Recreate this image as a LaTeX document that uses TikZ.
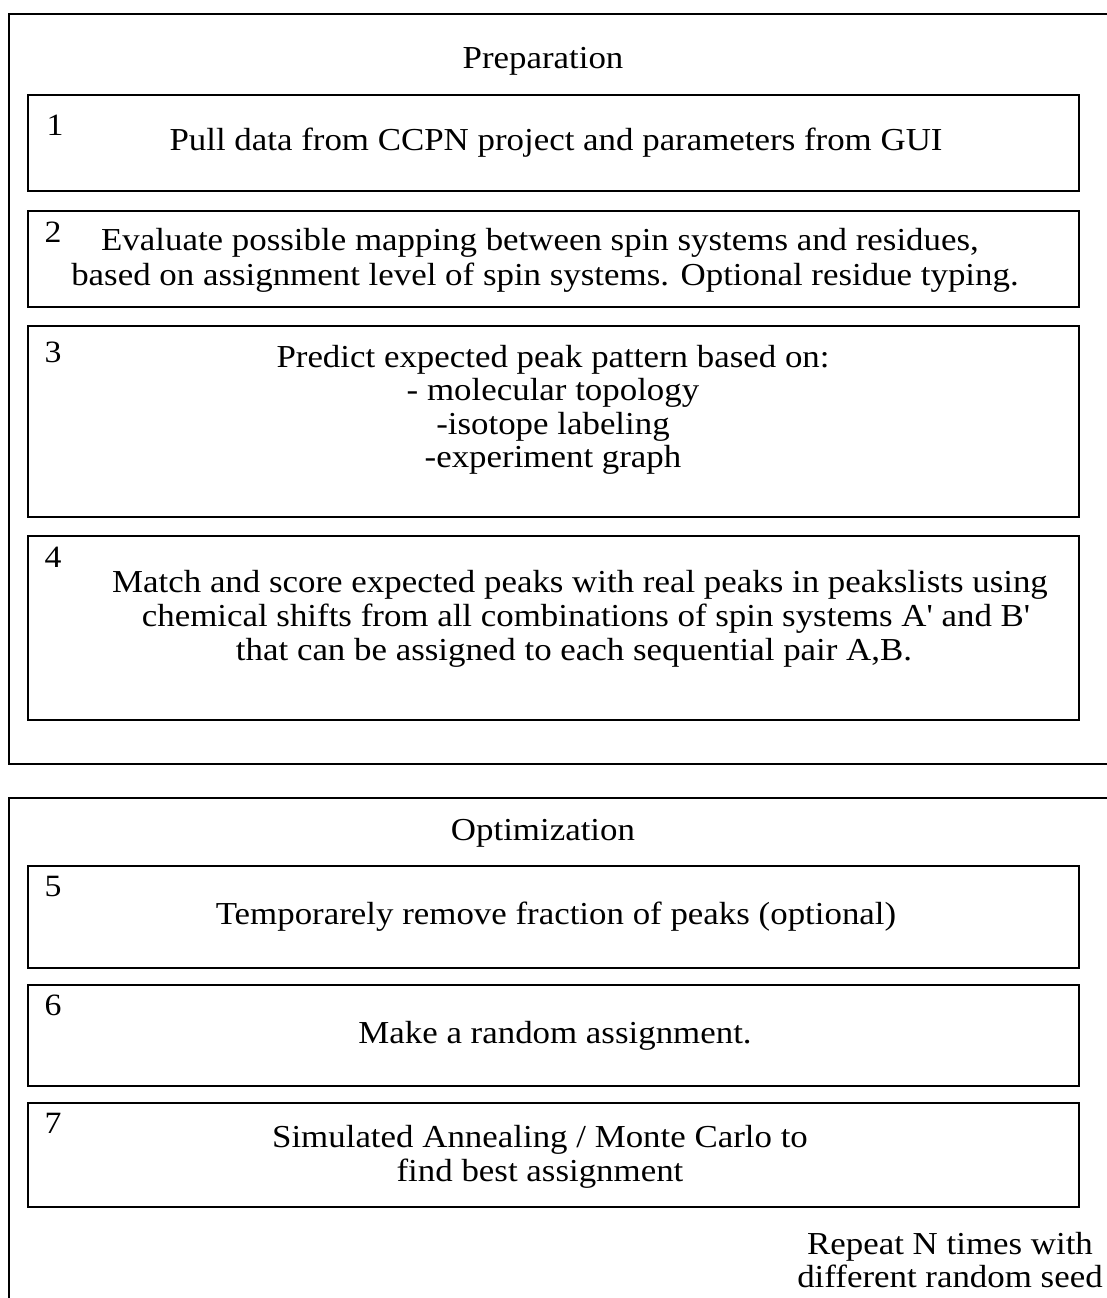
\documentclass[tikz,border=0pt]{standalone}
\usepackage{fontspec}
\newfontfamily\mainf{Liberation Serif}[FakeStretch=1.09]
\begin{document}
\begin{tikzpicture}[x=1pt,y=-1pt,
  outer/.style={draw=black,line width=2pt},
  stepbox/.style={draw=black,line width=2.4pt},
  lbl/.style={font=\mainf\fontsize{32}{33.5}\selectfont,inner sep=0pt,align=center},
  num/.style={font=\mainf\fontsize{31}{33}\selectfont,inner sep=0pt}
]
\useasboundingbox (0,0) rectangle (1107,1298);
\clip (0,0) rectangle (1107,1298);
% outer frames
\draw[outer] (9,14) rectangle (1120,764);
\draw[outer] (9,798) rectangle (1120,1320);
% titles
\node[lbl] (prep) at (543,61) {Preparation};
\node[lbl] (opt) at (543,833) {Optimization};
% step boxes
\draw[stepbox] (28,95) rectangle (1079,191);
\draw[stepbox] (28,211) rectangle (1079,307);
\draw[stepbox] (28,326) rectangle (1079,517);
\draw[stepbox] (28,536) rectangle (1079,720);
\draw[stepbox] (28,866) rectangle (1079,968);
\draw[stepbox] (28,985) rectangle (1079,1086);
\draw[stepbox] (28,1103) rectangle (1079,1207);
% numbers
\node[num] (n1) at (55,125) {1};
\node[num] (n2) at (53,232) {2};
\node[num] (n3) at (53,352) {3};
\node[num] (n4) at (53,557) {4};
\node[num] (n5) at (53,886) {5};
\node[num] (n6) at (53,1005) {6};
\node[num] (n7) at (53,1123) {7};
% texts
\node[lbl] (t1) at (556,143) {Pull data from CCPN project and parameters from GUI};
\node[lbl] (t2a) at (540,243) {Evaluate possible mapping between spin systems and residues,};
\node[lbl] (t2b) at (545,278) {based on assignment level of spin systems. Optional residue typing.};
\node[lbl] (t3) at (553,410) {Predict expected peak pattern based on:\\- molecular topology\\-isotope labeling\\-experiment graph};
\node[lbl] (t4a) at (580,585) {Match and score expected peaks with real peaks in peakslists using};
\node[lbl] (t4b) at (586,619) {chemical shifts from all combinations of spin systems A' and B'};
\node[lbl] (t4c) at (574,653) {that can be assigned to each sequential pair A,B.};
\node[lbl] (t5) at (556,917) {Temporarely remove fraction of peaks (optional)};
\node[lbl] (t6) at (555,1036) {Make a random assignment.};
\node[lbl] (t7) at (540,1157) {Simulated Annealing / Monte Carlo to\\find best assignment};
\node[lbl] (rep) at (950,1260) {Repeat N times with\\different random seed};
\end{tikzpicture}
\end{document}
